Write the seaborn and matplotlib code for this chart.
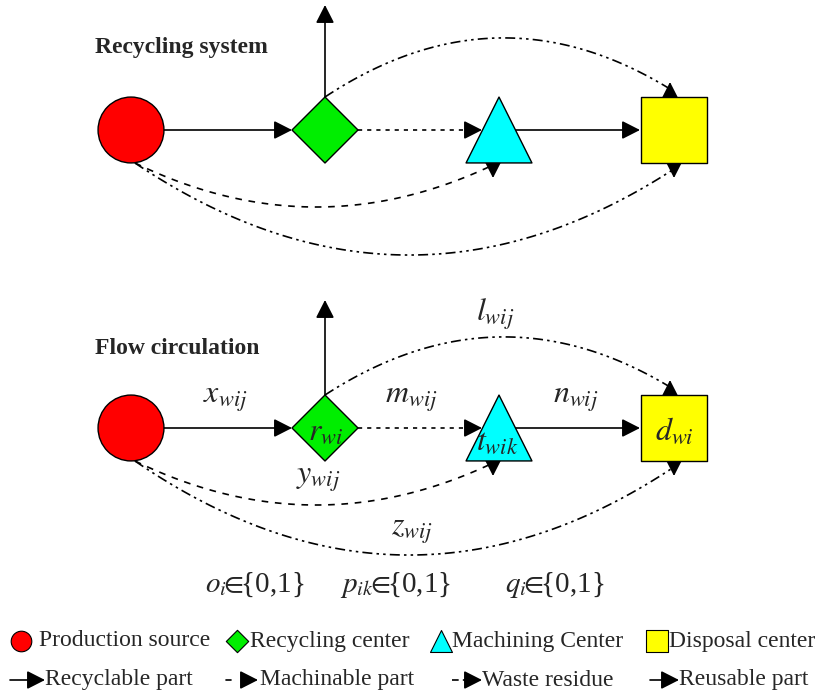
import numpy as np
import pandas as pd
import matplotlib
matplotlib.use("Agg")
import matplotlib.pyplot as plt
import seaborn as sns

# node layout (pixel space), two stacked diagrams
node_names = ["Production source", "Recycling center", "Machining Center", "Disposal center"]
node_x = [131, 325, 499, 674]
row_y = [130, 428]
node_colors = ["#ff0000", "#00ee00", "#00ffff", "#ffff00"]
node_markers = ["o", "D", "^", "s"]
node_sizes = [2250, 1130, 2250, 2300]

section_titles = ["Recycling system", "Flow circulation"]
title_y = [48, 348]

# curve apex / sag for each row
top_arc_y = [38, 337]
low_dash_y = [207, 505]
low_dashdot_y = [255, 555]
up_arrow_end = [5, 300]

# flow labels (bottom diagram)
flow_labels = ["$x_{wij}$", "$m_{wij}$", "$n_{wij}$", "$y_{wij}$", "$z_{wij}$", "$l_{wij}$"]
flow_label_pos = [(225, 400), (411, 400), (576, 400), (318, 480), (412, 532), (495, 314)]
node_labels = ["$r_{wi}$", "$t_{wik}$", "$d_{wi}$"]
node_label_pos = [(326, 432), (497, 442), (674, 432)]

binary_labels = ["$o_i\\!\\!\\in\\!\\!${0,1}", "$p_{ik}\\!\\!\\in\\!\\!${0,1}",
                 "$q_i\\!\\!\\in\\!\\!${0,1}"]
binary_x = [205, 340, 505]

edge_labels = ["Recyclable part", "Machinable part", "Waste residue", "Reusable part"]

sns.set_style("white")
plt.rcParams["font.family"] = ["Liberation Serif", "DejaVu Serif"]
plt.rcParams["mathtext.fontset"] = "stix"

fig = plt.figure(figsize=(8.23, 6.98), dpi=100)
ax = fig.add_axes([0, 0, 1, 1])
ax.set_xlim(0, 823)
ax.set_ylim(698, 0)
ax.axis("off")

LW = 1.2
DOT = (0, (2.5, 3))
DASH = (0, (4, 4))
DASHDOTDOT = (0, (6, 2.5, 1.5, 2.5, 1.5, 2.5))


def head(x0, y0, x1, y1, ls="-"):
    ax.annotate("", xy=(x1, y1), xytext=(x0, y0),
                arrowprops=dict(arrowstyle="-|>,head_length=0.55,head_width=0.28",
                                color="black", lw=LW, linestyle=ls,
                                shrinkA=0, shrinkB=0, mutation_scale=20))


def curve(p0, p2, extreme, ls):
    cy = 2 * extreme - (p0[1] + p2[1]) / 2
    cx = (p0[0] + p2[0]) / 2
    t = np.linspace(0, 1, 100)
    xs = (1 - t) ** 2 * p0[0] + 2 * (1 - t) * t * cx + t ** 2 * p2[0]
    ys = (1 - t) ** 2 * p0[1] + 2 * (1 - t) * t * cy + t ** 2 * p2[1]
    ax.plot(xs, ys, color="black", lw=LW, linestyle=ls, zorder=1)


r = 33
for k, y in enumerate(row_y):
    cx, dx, tx, sx = node_x
    # vertical outlet from recycling center
    ax.plot([dx, dx], [y - r, up_arrow_end[k] + 15], color="black", lw=LW, zorder=1)
    head(dx, up_arrow_end[k] + 16, dx, up_arrow_end[k])
    # main chain
    ax.plot([cx + r, dx - r - 12], [y, y], color="black", lw=LW, zorder=1)
    head(dx - r - 14, y, dx - r, y)
    ax.plot([dx + r, tx - 18 - 12], [y, y], color="black", lw=LW, linestyle=DOT, zorder=1)
    head(tx - 32, y, tx - 17, y)
    ax.plot([tx + 16, sx - r - 12], [y, y], color="black", lw=LW, zorder=1)
    head(sx - r - 15, y, sx - r - 1, y)
    # arcs
    curve((dx, y - r), (sx - 4, y - r - 8), top_arc_y[k], DASHDOTDOT)
    head(sx - 4, y - r + 1, sx - 4, y - r - 15)
    curve((cx + 4, y + r), (tx - 6, y + r + 2), low_dash_y[k], DASH)
    head(tx - 6, y + r + 1, tx - 6, y + r + 15)
    curve((cx + 4, y + r), (sx, y + r + 6), low_dashdot_y[k], DASHDOTDOT)
    head(sx, y + r + 1, sx, y + r + 15)

    nodes = pd.DataFrame({"node": node_names, "x": node_x, "y": [y] * 4})
    sns.scatterplot(data=nodes, x="x", y="y", hue="node", style="node", size="node",
                    palette=dict(zip(node_names, node_colors)),
                    markers=dict(zip(node_names, node_markers)),
                    sizes=dict(zip(node_names, node_sizes)),
                    edgecolor="black", linewidth=1.0, legend=False, ax=ax, zorder=3)

    ax.text(95, title_y[k], section_titles[k], fontsize=17, fontweight="bold",
            ha="left", va="center")

for lab, (x, y) in zip(flow_labels, flow_label_pos):
    ax.text(x, y, lab, fontsize=23, ha="center", va="center")
for lab, (x, y) in zip(node_labels, node_label_pos):
    ax.text(x, y, lab, fontsize=23, ha="center", va="center", zorder=5)
for lab, x in zip(binary_labels, binary_x):
    ax.text(x, 585, lab, fontsize=21, ha="left", va="center")

# legend row 1: node symbols
leg_marker_x = [21, 237, 441, 657]
leg_text_x = [39, 250, 452, 669]
leg_sizes = [220, 130, 250, 230]
for n, c, m, s, mx, txx in zip(node_names, node_colors, node_markers, leg_sizes,
                               leg_marker_x, leg_text_x):
    ax.scatter([mx], [641], s=s, c=c, marker=m, edgecolors="black", linewidths=0.8, zorder=3)
    ax.text(txx, 641, n, fontsize=17, ha="left", va="center")

# legend row 2: edge styles
arrow_text_x = [45, 260, 482, 679]
for lab, txx in zip(edge_labels, arrow_text_x):
    ax.text(txx, 680, lab, fontsize=17, ha="left", va="center")
ax.plot([10, 32], [680, 680], color="black", lw=LW)
head(30, 680, 45, 680)
ax.plot([226, 231], [680, 680], color="black", lw=LW)
head(243, 680, 258, 680)
ax.plot([452, 468], [680, 680], color="black", lw=LW, linestyle=(0, (4, 2.5, 1.5, 2.5)))
head(468, 680, 482, 680)
ax.plot([650, 666], [680, 680], color="black", lw=LW)
head(664, 680, 679, 680)

fig.savefig("out.png", dpi=100)
